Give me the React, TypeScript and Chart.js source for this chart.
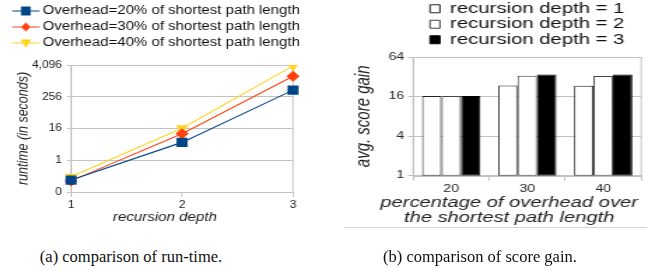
import React, { useEffect, useRef } from 'react';
import { Chart, registerables } from 'chart.js';

Chart.register(...registerables);

// ---------- data: (a) run-time ----------
const depthLabels = ['1', '2', '3'];
const runtimeSeriesNames = [
  'Overhead=20% of shortest path length',
  'Overhead=30% of shortest path length',
  'Overhead=40% of shortest path length',
];
const runtime20 = [0.177, 4.76, 456];
const runtime30 = [0.165, 10.1, 1540];
const runtime40 = [0.236, 16.4, 3800];
const runtimeTickValues = [0.0625, 1, 16, 256, 4096];
const runtimeTickLabels = ['0', '1', '16', '256', '4,096'];

// ---------- data: (b) score gain ----------
const overheadLabels = ['20', '30', '40'];
const depthSeriesNames = ['recursion depth = 1', 'recursion depth = 2', 'recursion depth = 3'];
const gainDepth1 = [16.3, 23.6, 23.3];
const gainDepth2 = [16.3, 33.3, 32.8];
const gainDepth3 = [16.3, 34.8, 34.8];
const gainTickValues = [1, 4, 16, 64];
const gainTickLabels = ['1', '4', '16', '64'];

const FONT = '"Liberation Sans", Arial, Helvetica, sans-serif';
const GRID = '#c3c3c3';
const TEXT = '#222';
const BLUE = '#004586';
const ORANGE = '#ff420e';
const YELLOW = '#ffd320';

Chart.defaults.font.family = FONT;
Chart.defaults.color = TEXT;

const framePlugin = {
  id: 'frame',
  beforeDatasetsDraw(chart: any) {
    const { ctx, chartArea } = chart;
    ctx.save();
    ctx.strokeStyle = GRID;
    ctx.lineWidth = 1;
    const t = Math.round(chartArea.top) + 0.5;
    const b = Math.round(chartArea.bottom) + 0.5;
    ctx.strokeRect(chartArea.left, t, chartArea.right - chartArea.left, b - t);
    ctx.restore();
  },
};

function makeXTitlePlugin(lines: string[], size: number, dx: number, dy: number, gap: number) {
  return {
    id: 'xTitle',
    afterDraw(chart: any) {
      const { ctx, chartArea } = chart;
      ctx.save();
      ctx.font = `italic ${size}px ${FONT}`;
      ctx.fillStyle = TEXT;
      ctx.textAlign = 'center';
      ctx.textBaseline = 'middle';
      const cx = (chartArea.left + chartArea.right) / 2 + dx;
      lines.forEach((line, i) => ctx.fillText(line, cx, chartArea.bottom + dy + i * gap));
      ctx.restore();
    },
  };
}

function makeIcon(color: string, shape: string) {
  const w = 23;
  const h = 13;
  const c = document.createElement('canvas');
  c.width = w;
  c.height = h;
  const g = c.getContext('2d')!;
  g.strokeStyle = color;
  g.lineWidth = 1;
  g.beginPath();
  g.moveTo(0, 6.5);
  g.lineTo(w, 6.5);
  g.stroke();
  g.fillStyle = color;
  const cx = w / 2;
  const cy = 6.5;
  g.beginPath();
  if (shape === 'square') {
    g.rect(cx - 4, cy - 4.5, 8, 9);
  } else if (shape === 'diamond') {
    g.moveTo(cx - 4, cy);
    g.lineTo(cx, cy - 4.5);
    g.lineTo(cx + 4, cy);
    g.lineTo(cx, cy + 4.5);
    g.closePath();
  } else {
    g.moveTo(cx - 4.5, cy - 3.5);
    g.lineTo(cx + 4.5, cy - 3.5);
    g.lineTo(cx, cy + 5);
    g.closePath();
  }
  g.fill();
  return c;
}

function RuntimeChart() {
  const ref = useRef<HTMLCanvasElement>(null);
  useEffect(() => {
    const icons = [makeIcon(BLUE, 'square'), makeIcon(ORANGE, 'diamond'), makeIcon(YELLOW, 'triangle')];
    const colors = [BLUE, ORANGE, YELLOW];
    const styles = ['rect', 'rectRot', 'triangle'];
    const radii = [6.5, 5.5, 6];
    const rotations = [0, 0, 180];
    const series = [runtime20, runtime30, runtime40];
    const chart = new Chart(ref.current!, {
      type: 'line',
      data: {
        labels: depthLabels,
        datasets: series.map((d, i) => ({
          label: runtimeSeriesNames[i],
          data: d,
          xAxisID: 'x',
          yAxisID: 'y',
          borderColor: colors[i],
          backgroundColor: colors[i],
          borderWidth: 1.1,
          tension: 0,
          pointStyle: styles[i] as any,
          pointRadius: radii[i],
          pointRotation: rotations[i],
          pointBorderWidth: 0,
        })),
      },
      options: {
        animation: false,
        responsive: false,
        events: [],
        layout: { padding: { top: 1.25, left: 10.25, right: 5, bottom: 0 } },
        scales: {
          x: {
            type: 'category',
            offset: false,
            grid: { display: true, drawOnChartArea: false, tickLength: 5, color: GRID },
            border: { display: true, color: GRID },
            ticks: { font: { size: 10 }, color: TEXT, padding: 2 },
            afterFit: (s: any) => {
              s.height = 40;
            },
          },
          y: {
            type: 'logarithmic',
            min: runtimeTickValues[0],
            max: runtimeTickValues[runtimeTickValues.length - 1],
            afterBuildTicks: (s: any) => {
              s.ticks = runtimeTickValues.map((v) => ({ value: v }));
            },
            ticks: {
              font: { size: 10 },
              color: TEXT,
              padding: 4,
              callback: (v: any) => {
                const i = runtimeTickValues.indexOf(Number(v));
                return i >= 0 ? runtimeTickLabels[i] : '';
              },
            },
            grid: { color: GRID, tickLength: 3.5 },
            border: { color: GRID },
            title: {
              display: true,
              text: 'runtime (in seconds)',
              font: { size: 12.5, style: 'italic' },
              color: TEXT,
              padding: { top: 1.45, bottom: 0 },
            },
            afterFit: (s: any) => {
              s.width = 48.92;
            },
          },
          xTop: {
            type: 'linear',
            position: 'top',
            display: true,
            min: 0,
            max: 1,
            grid: { display: false },
            border: { display: false },
            ticks: { display: false },
            afterFit: (s: any) => {
              s.height = 5.75;
            },
          },
          yRight: {
            type: 'linear',
            position: 'right',
            display: true,
            min: 0,
            max: 1,
            grid: { display: false },
            border: { display: false },
            ticks: { display: false },
            afterFit: (s: any) => {
              s.width = 25.83;
            },
          },
        },
        plugins: {
          tooltip: { enabled: false },
          legend: {
            position: 'top',
            align: 'start',
            labels: {
              usePointStyle: true,
              pointStyleWidth: 15.5,
              padding: 3.5,
              font: { size: 12.5 },
              color: '#111',
              generateLabels: (c: any) => {
                const items = (Chart.defaults.plugins.legend.labels as any).generateLabels(c);
                return items.map((it: any, i: number) => ({ ...it, pointStyle: icons[i], rotation: 0 }));
              },
            },
          },
        },
      } as any,
      plugins: [framePlugin, makeXTitlePlugin(['recursion depth'], 12.6, -14.2, 25, 15)],
    });
    return () => chart.destroy();
  }, []);
  return (
    <div style={{ position: 'absolute', left: 0, top: 0, width: 275, height: 232, transform: 'scaleX(1.2)', transformOrigin: '0 0' }}>
      <canvas ref={ref} width={275} height={232} />
    </div>
  );
}

function GainChart() {
  const ref = useRef<HTMLCanvasElement>(null);
  useEffect(() => {
    const fills = ['#ffffff', '#ffffff', '#000000'];
    const borders = ['#222222', '#444444', '#000000'];
    const series = [gainDepth1, gainDepth2, gainDepth3];
    const chart = new Chart(ref.current!, {
      type: 'bar',
      data: {
        labels: overheadLabels,
        datasets: series.map((d, i) => ({
          label: depthSeriesNames[i],
          data: d,
          backgroundColor: fills[i],
          borderColor: borders[i],
          borderWidth: 1,
          borderSkipped: false,
          barPercentage: 1,
          categoryPercentage: 0.767,
        })),
      },
      options: {
        animation: false,
        responsive: false,
        events: [],
        layout: { padding: { top: 0.5, left: 0, right: 7.86, bottom: 0 } },
        scales: {
          x: {
            grid: { display: true, offset: true, drawOnChartArea: false, tickLength: 5, color: GRID },
            border: { display: true, color: GRID },
            ticks: { font: { size: 10 }, color: TEXT, padding: 3 },
            afterFit: (s: any) => {
              s.height = 56.3;
            },
          },
          y: {
            type: 'logarithmic',
            min: gainTickValues[0],
            max: gainTickValues[gainTickValues.length - 1],
            afterBuildTicks: (s: any) => {
              s.ticks = gainTickValues.map((v) => ({ value: v }));
            },
            ticks: {
              font: { size: 10 },
              color: TEXT,
              padding: 2.43,
              callback: (v: any) => {
                const i = gainTickValues.indexOf(Number(v));
                return i >= 0 ? gainTickLabels[i] : '';
              },
            },
            grid: { color: GRID, tickLength: 4 },
            border: { color: GRID },
            title: {
              display: true,
              text: 'avg. score gain',
              font: { size: 15, style: 'italic' },
              color: TEXT,
              padding: { top: 8.29, bottom: 0 },
            },
            afterFit: (s: any) => {
              s.width = 52.29;
            },
          },
        },
        plugins: {
          tooltip: { enabled: false },
          legend: {
            position: 'top',
            align: 'center',
            fullSize: false,
            labels: {
              boxWidth: 7.1,
              boxHeight: 8,
              padding: 1,
              font: { size: 14.5 },
              color: '#111',
            },
          },
        },
      } as any,
      plugins: [
        framePlugin,
        makeXTitlePlugin(['percentage of overhead over', 'the shortest path length'], 14.4, -12.85, 27.3, 15),
      ],
    });
    return () => chart.destroy();
  }, []);
  return (
    <div style={{ position: 'absolute', left: 339.8, top: 0, width: 223, height: 232, transform: 'scaleX(1.4)', transformOrigin: '0 0' }}>
      <canvas ref={ref} width={223} height={232} />
    </div>
  );
}

const captionStyle: React.CSSProperties = {
  position: 'absolute',
  top: 247,
  height: 20,
  lineHeight: '20px',
  fontFamily: '"Liberation Serif", "Times New Roman", serif',
  fontSize: 16.5,
  color: '#111',
  textAlign: 'center',
  whiteSpace: 'nowrap',
};

export default function App() {
  return (
    <div style={{ position: 'absolute', left: 0, top: 0, width: 652, height: 271, overflow: 'hidden', background: '#fff' }}>
      <RuntimeChart />
      <GainChart />
      <div style={{ position: 'absolute', left: 344, top: 227, width: 303, height: 1, background: '#d4d4d4' }} />
      <div style={{ ...captionStyle, left: 0, width: 262 }}>(a) comparison of run-time.</div>
      <div style={{ ...captionStyle, left: 360, width: 240 }}>(b) comparison of score gain.</div>
    </div>
  );
}
